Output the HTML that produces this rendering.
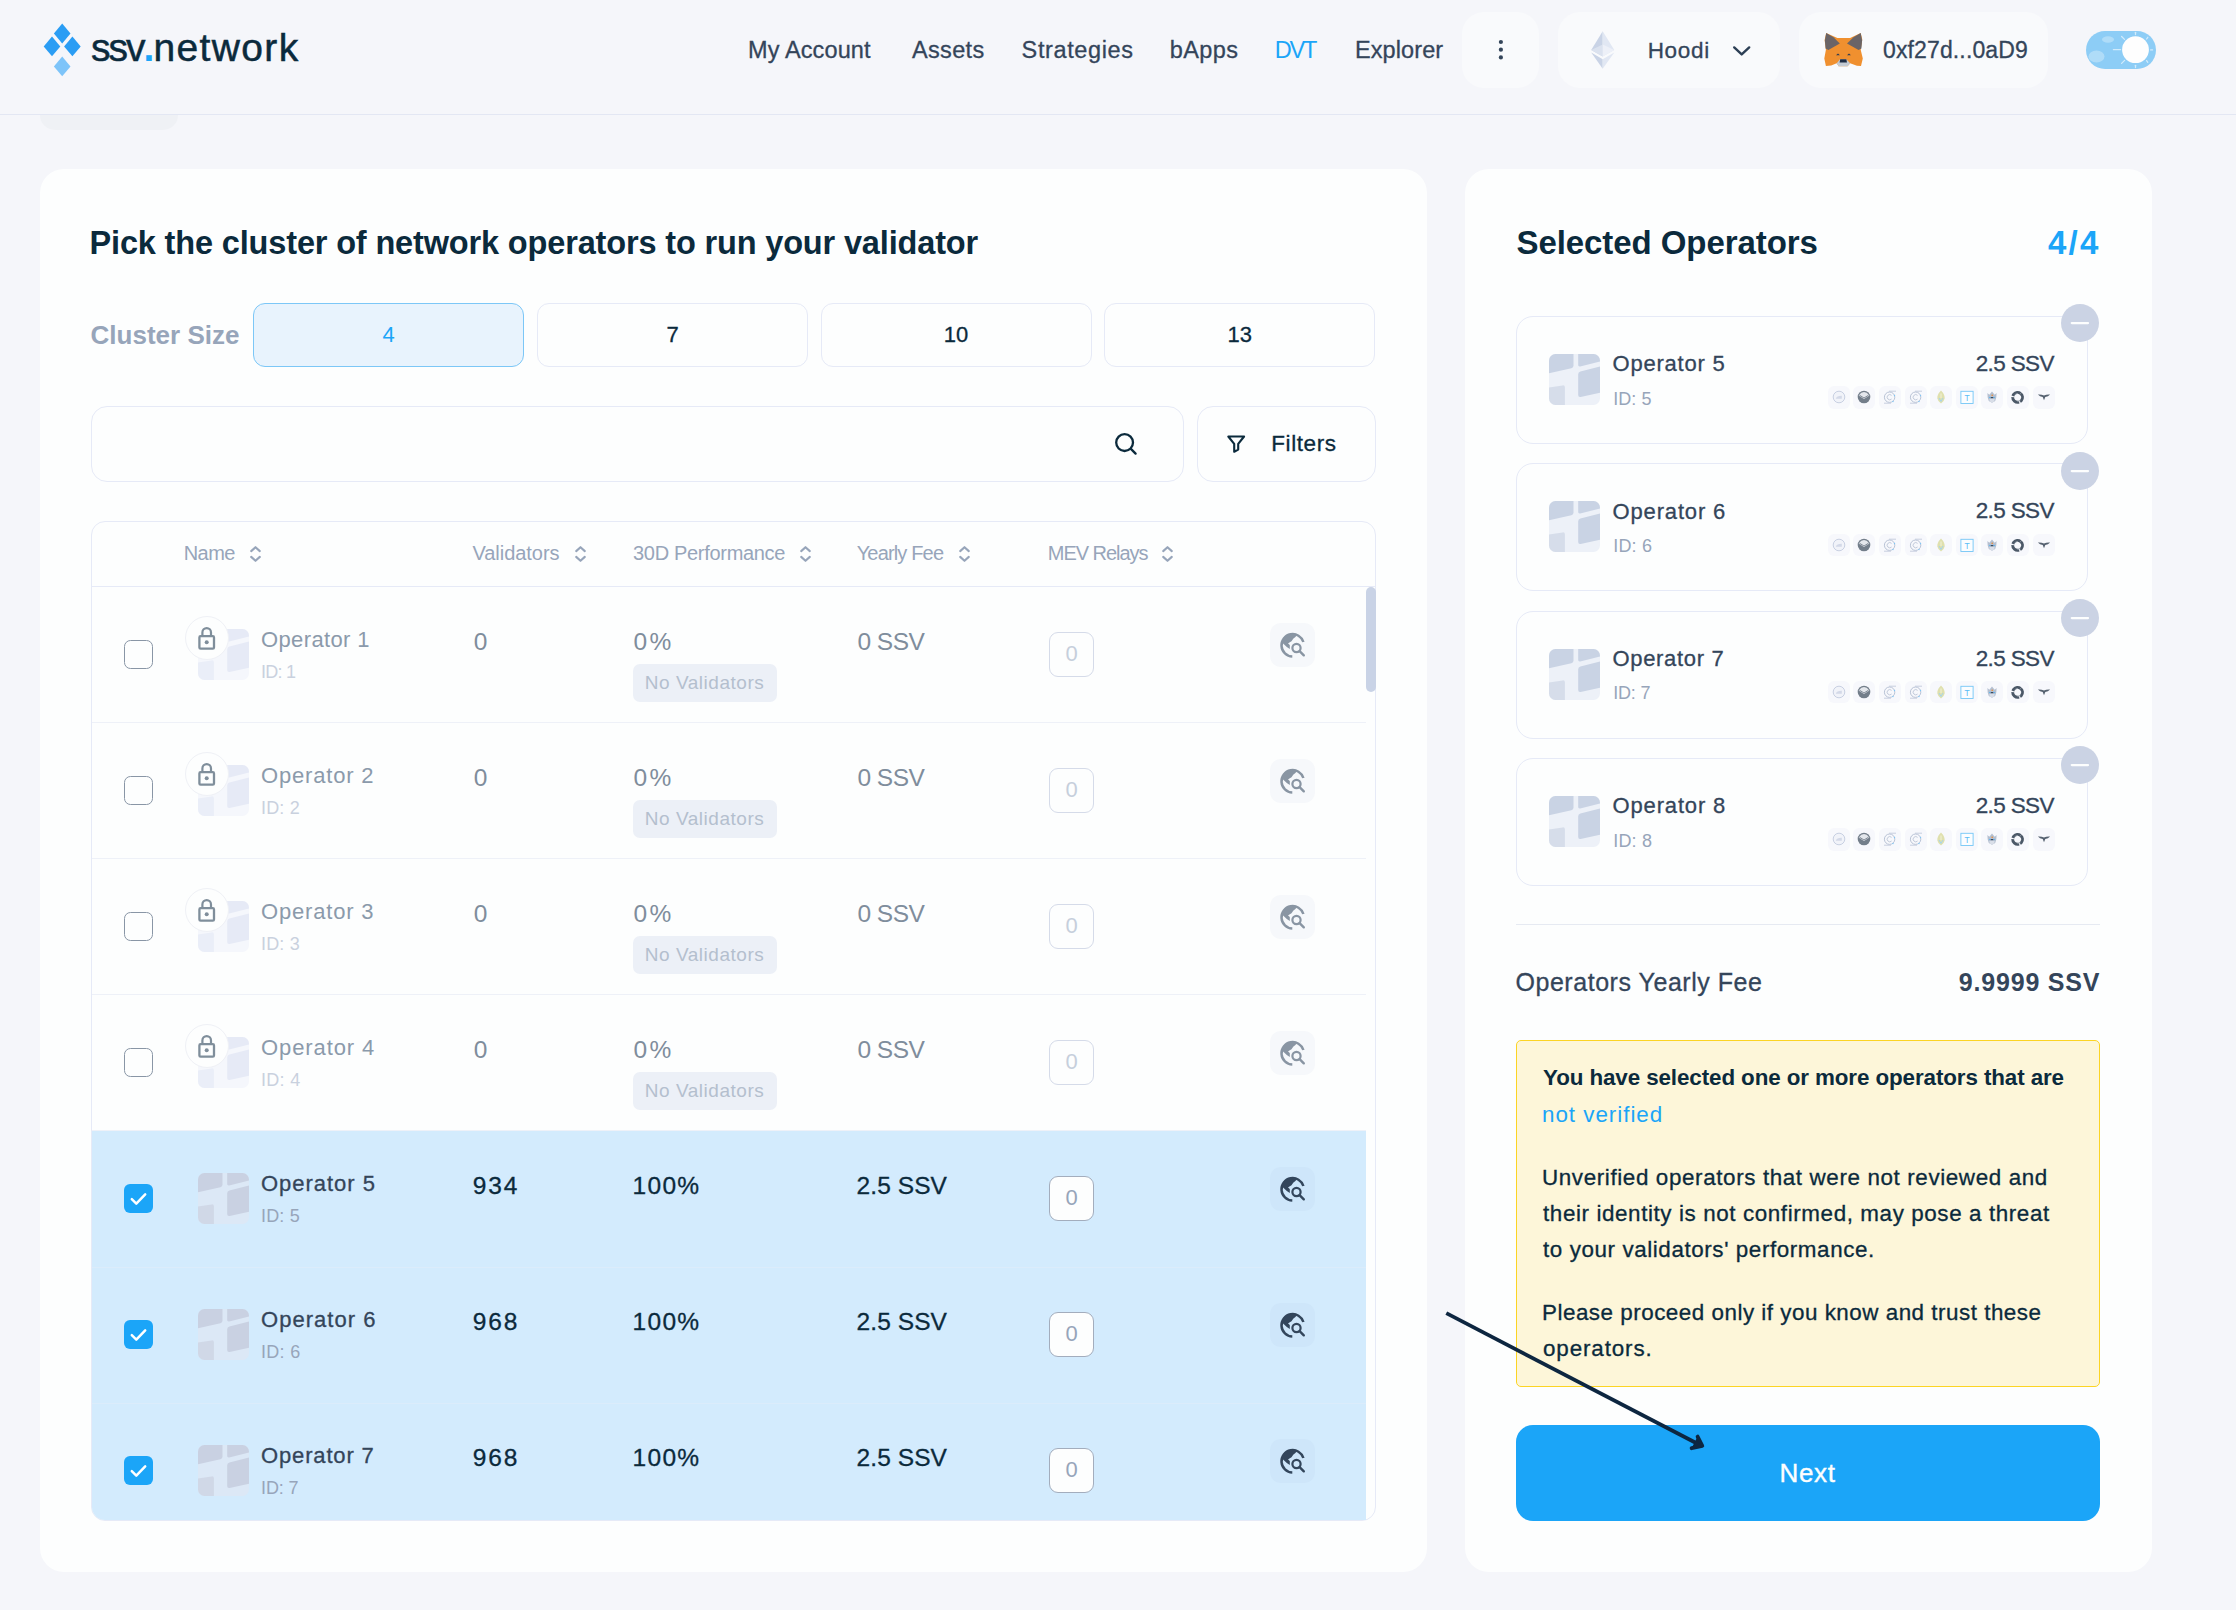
<!DOCTYPE html>
<html lang="en"><head><meta charset="utf-8"><title>ssv.network - Select Operators</title>
<style>
*{box-sizing:border-box;margin:0;padding:0}
html,body{width:2236px;height:1610px;overflow:hidden}
body{position:relative;background:#f5f6fa;font-family:"Liberation Sans",sans-serif;color:#0b2a3c}
body>div,body>svg,.t{position:absolute}
.t{white-space:nowrap;line-height:1;display:block}
div>svg{position:absolute;left:0;top:0}

</style></head>
<body>
<div style="left:40px;top:100px;width:138px;height:30px;background:#eff1f5;border-radius:15px"></div>
<div style="left:0px;top:0px;width:2236px;height:114.5px;background:#f5f6fa;border-bottom:1px solid #e3e7f3"></div>
<svg style="left:40px;top:20px" width="48" height="60" viewBox="40 20 48 60">
<path d="M62.2 23.6 70.5 33.6 62.2 43.6 53.9 33.6Z" fill="#2a9df4"/>
<path d="M52 36.6 60.3 46.4 52 56.2 43.7 46.4Z" fill="#2a9df4"/>
<path d="M72.4 36.6 80.7 46.4 72.4 56.2 64.1 46.4Z" fill="#2a9df4"/>
<path d="M62.2 56.6 70.5 66.4 62.2 76.2 53.9 66.4Z" fill="#7dc4f9"/>
</svg>
<div style="left:1462px;top:12px;width:77px;height:75.5px;background:#f9fafc;border-radius:22px"></div>
<div style="left:1558px;top:12px;width:222px;height:75.5px;background:#f9fafc;border-radius:22px"></div>
<div style="left:1799px;top:12px;width:248.5px;height:75.5px;background:#f9fafc;border-radius:22px"></div>
<svg style="left:1494px;top:36px" width="14" height="28" viewBox="0 0 14 28">
<circle cx="6.900" cy="6" r="2.100" fill="#34455a"/><circle cx="6.900" cy="13.700" r="2.100" fill="#34455a"/><circle cx="6.900" cy="21.400" r="2.100" fill="#34455a"/></svg>
<svg style="left:1588px;top:28px" width="30" height="44" viewBox="1588 28 30 44">
<path d="M1602.7 31.2 1591.2 50 1602.7 56.6Z" fill="#c9d3e6"/>
<path d="M1602.7 31.2 1614.3 50 1602.7 56.6Z" fill="#e1e7f3"/>
<path d="M1591.2 50 1602.7 44.6 1602.7 56.6Z" fill="#dde3f0" opacity=".9"/>
<path d="M1614.3 50 1602.7 44.6 1602.7 56.6Z" fill="#edf0f8"/>
<path d="M1591.2 52.4 1602.7 59.2 1602.7 68.8Z" fill="#c9d3e6"/>
<path d="M1614.3 52.4 1602.7 59.2 1602.7 68.8Z" fill="#e1e7f3"/>
</svg>
<svg style="left:1730px;top:42px" width="24" height="18" viewBox="1730 42 24 18">
<path d="M1734.2 47.4 1741.7 54.4 1749.2 47.4" fill="none" stroke="#2c3f55" stroke-width="2.4" stroke-linecap="round" stroke-linejoin="round"/></svg>
<svg style="left:1822px;top:31px" width="44" height="38" viewBox="0 0 44 38">
<path d="M4.200 2.100 15.400 7H28.100L38.700 2.100 40.300 8.600 38.700 18.800 40.800 27.500 39 35 34.900 34.700 28.100 32.200 25.600 35.300H16.600L14.700 32.200 9.200 34.400 3.900 35 2.300 27.500 3.900 18.800 2.600 9Z" fill="#f0902f"/>
<path d="M4.200 2.100 11.500 6.200 17.800 12.400 6.400 19 3.600 17.600 2.900 9.500Z" fill="#6a6467"/>
<path d="M38.700 2.100 31.500 6.200 25 12.400 36.600 19 39.400 17.600 40.100 9.500Z" fill="#6a6467"/>
<path d="M14.700 32.200 18 28.300H24.400L28.100 32.200 25.600 35.300H16.600Z" fill="#c3cad3"/>
<path d="M18.200 28.300H24.400L25 31.600H17.600Z" fill="#1f2d44"/>
<path d="M14 24.200 16 22.600 17.900 24.200Z" fill="#2a3a52"/><path d="M25 24.200 27 22.600 28.900 24.200Z" fill="#2a3a52"/>
</svg>
<div style="left:2086px;top:31px;width:70px;height:38px;background:#8dcdf6;border-radius:19px"></div>
<svg style="left:2086px;top:30px" width="70" height="40" viewBox="2086 30 70 40">
<g stroke="#fff" stroke-width="1.300" opacity=".6" stroke-linecap="round">
<path d="M2113.400 49.700H2120.600"/><path d="M2121.600 36.500 2124.500 39.400"/><path d="M2121.600 63.400 2124.600 60.400"/><path d="M2135.500 32.300V34.600"/><path d="M2135.500 65.300V67.600"/><path d="M2150.600 49.900H2152.600"/><path d="M2146.600 39 2147.800 37.300"/><path d="M2146.600 60.600 2147.800 62.300"/>
</g>
<g fill="#fff" opacity=".3"><ellipse cx="2108" cy="39.500" rx="6" ry="3.200"/><ellipse cx="2096.500" cy="56.500" rx="8" ry="6"/></g>
<circle cx="2135.500" cy="49.700" r="13.400" fill="#fefefe"/>
</svg>
<div style="left:40px;top:169px;width:1387px;height:1402.5px;background:#fdfefe;border-radius:24px"></div>
<div style="left:1465px;top:169px;width:687px;height:1402.5px;background:#fdfefe;border-radius:24px"></div>
<div style="left:253px;top:303px;width:271px;height:64px;background:#e8f3fd;border:1px solid #7cc7f7;border-radius:12px"></div>
<div style="left:537.0px;top:303px;width:271px;height:64px;background:#fdfefe;border:1px solid #e6eaf7;border-radius:12px"></div>
<div style="left:820.6px;top:303px;width:271px;height:64px;background:#fdfefe;border:1px solid #e6eaf7;border-radius:12px"></div>
<div style="left:1104.2px;top:303px;width:271px;height:64px;background:#fdfefe;border:1px solid #e6eaf7;border-radius:12px"></div>
<div style="left:91px;top:406px;width:1092.5px;height:75.5px;background:#fdfefe;border:1px solid #e6eaf7;border-radius:16px"></div>
<div style="left:1197px;top:406px;width:179px;height:75.5px;background:#fdfefe;border:1px solid #e6eaf7;border-radius:16px"></div>
<svg style="left:1110px;top:428px" width="32" height="32" viewBox="1110 428 32 32">
<circle cx="1124.6" cy="442.6" r="8.4" fill="none" stroke="#0b2a3c" stroke-width="2.3"/>
<path d="M1130.900 448.900 1135.600 453.600" stroke="#0b2a3c" stroke-width="2.3" stroke-linecap="round"/></svg>
<svg style="left:1222px;top:430px" width="28" height="28" viewBox="1222 430 28 28">
<path d="M1228.300 436.500H1244.100L1238.200 443.900V449.600L1234.200 451.700V443.900Z" fill="none" stroke="#0b2a3c" stroke-width="2.1" stroke-linejoin="round"/></svg>
<div style="left:91px;top:521px;width:1285px;height:1000px;background:#fdfefe;border:1px solid #e6eaf7;border-radius:14px"></div>
<div style="left:92px;top:586px;width:1283px;height:1px;background:#e6eaf7"></div>
<svg style="left:246.5px;top:543px" width="17" height="22" viewBox="0 0 17 22"><path d="M4.200 8.100 8.500 4.200 12.800 8.100M4.200 13.900 8.500 17.800 12.800 13.900" fill="none" stroke="#97a5ba" stroke-width="2.1" stroke-linecap="round" stroke-linejoin="round"/></svg>
<svg style="left:571.6px;top:543px" width="17" height="22" viewBox="0 0 17 22"><path d="M4.200 8.100 8.500 4.200 12.800 8.100M4.200 13.900 8.500 17.800 12.800 13.900" fill="none" stroke="#97a5ba" stroke-width="2.1" stroke-linecap="round" stroke-linejoin="round"/></svg>
<svg style="left:796.6px;top:543px" width="17" height="22" viewBox="0 0 17 22"><path d="M4.200 8.100 8.500 4.200 12.800 8.100M4.200 13.900 8.500 17.800 12.800 13.900" fill="none" stroke="#97a5ba" stroke-width="2.1" stroke-linecap="round" stroke-linejoin="round"/></svg>
<svg style="left:955.6px;top:543px" width="17" height="22" viewBox="0 0 17 22"><path d="M4.200 8.100 8.500 4.200 12.800 8.100M4.200 13.900 8.500 17.800 12.800 13.900" fill="none" stroke="#97a5ba" stroke-width="2.1" stroke-linecap="round" stroke-linejoin="round"/></svg>
<svg style="left:1159.4px;top:543px" width="17" height="22" viewBox="0 0 17 22"><path d="M4.200 8.100 8.500 4.200 12.800 8.100M4.200 13.900 8.500 17.800 12.800 13.900" fill="none" stroke="#97a5ba" stroke-width="2.1" stroke-linecap="round" stroke-linejoin="round"/></svg>
<div style="left:1366px;top:587px;width:9.5px;height:105px;background:#c9d3e6;border-radius:5px"></div>
<div style="left:92px;top:722.0px;width:1274px;height:1px;background:#eef1f8"></div>
<div style="left:124px;top:640.0px;width:29px;height:29px;background:#fdfefe;border:1.300px solid #8996a6;border-radius:6.500px"></div>
<svg style="left:198px;top:629.0px" width="51" height="51" viewBox="0 0 51 51"><defs><clipPath id="c198_629"><rect width="51" height="51" rx="6.500"/></clipPath></defs><g clip-path="url(#c198_629)"><rect width="51" height="51" fill="#f5f7fc"/><path d="M0 0H24.500V11.500Q24.500 13.600 22.400 14.200L0 19.200Z" fill="#e6eaf6"/><path d="M29.200 0H51V7.600L31.200 12.400Q29.200 12.800 29.200 11Z" fill="#e6eaf6"/><path d="M31.400 17.600 51 12.600V38.800L31.600 42.900Q29.200 43.300 29.200 41V20.200Q29.200 18.100 31.400 17.600Z" fill="#e6eaf6"/><path d="M0 33.600 13.600 31.400Q15.900 31.100 15.900 33.300V51H0Z" fill="#eaeef8"/></g></svg>
<div style="left:185px;top:616.0px;width:44px;height:44px;background:#fdfefe;border:1px solid #eff1f6;border-radius:22px"><svg width="44" height="44" viewBox="185 0 44 44" style="left:-1px;top:-1px"><rect x="199.400" y="20.200" width="14.600" height="12.400" rx="1.200" fill="none" stroke="#7f8e9b" stroke-width="2.300"/><path d="M202.400 19.800V16.400A4.300 4.300 0 0 1 211 16.400V19.800" fill="none" stroke="#7f8e9b" stroke-width="2.200"/><circle cx="206.700" cy="26.200" r="2" fill="#7f8e9b"/></svg></div>
<div style="left:633px;top:664.0px;width:144px;height:38px;background:#ecf0f7;border-radius:7px"></div>
<div style="left:1049px;top:632.0px;width:45px;height:45px;background:#fdfefe;border:1px solid #d5dbe9;border-radius:9px"></div>
<div style="left:1270px;top:623.0px;width:44.500px;height:44px;background:#f6f8fb;border-radius:11px"><svg width="45" height="44" viewBox="0 0 45 44"><path d="M33.400 19A11.200 11.200 0 1 0 22.300 33.500" fill="none" stroke="#8995a3" stroke-width="2.500"/><path d="M11.800 18.300 12.800 20.300 16.800 24 19.800 26V22L18 20.500 19.800 19.300 21.500 18.300 23.200 15.800 25.700 13.800 26.700 11.300A11.200 11.200 0 0 0 11.800 18.300Z" fill="#8995a3"/><circle cx="26.500" cy="25" r="4.100" fill="none" stroke="#8995a3" stroke-width="2.200"/><path d="M29.600 28.100 33.800 32.300" stroke="#8995a3" stroke-width="2.400" stroke-linecap="round"/></svg></div>
<div style="left:92px;top:858.0px;width:1274px;height:1px;background:#eef1f8"></div>
<div style="left:124px;top:776.0px;width:29px;height:29px;background:#fdfefe;border:1.300px solid #8996a6;border-radius:6.500px"></div>
<svg style="left:198px;top:765.0px" width="51" height="51" viewBox="0 0 51 51"><defs><clipPath id="c198_765"><rect width="51" height="51" rx="6.500"/></clipPath></defs><g clip-path="url(#c198_765)"><rect width="51" height="51" fill="#f5f7fc"/><path d="M0 0H24.500V11.500Q24.500 13.600 22.400 14.200L0 19.200Z" fill="#e6eaf6"/><path d="M29.200 0H51V7.600L31.200 12.400Q29.200 12.800 29.200 11Z" fill="#e6eaf6"/><path d="M31.400 17.600 51 12.600V38.800L31.600 42.900Q29.200 43.300 29.200 41V20.200Q29.200 18.100 31.400 17.600Z" fill="#e6eaf6"/><path d="M0 33.600 13.600 31.400Q15.900 31.100 15.900 33.300V51H0Z" fill="#eaeef8"/></g></svg>
<div style="left:185px;top:752.0px;width:44px;height:44px;background:#fdfefe;border:1px solid #eff1f6;border-radius:22px"><svg width="44" height="44" viewBox="185 0 44 44" style="left:-1px;top:-1px"><rect x="199.400" y="20.200" width="14.600" height="12.400" rx="1.200" fill="none" stroke="#7f8e9b" stroke-width="2.300"/><path d="M202.400 19.800V16.400A4.300 4.300 0 0 1 211 16.400V19.800" fill="none" stroke="#7f8e9b" stroke-width="2.200"/><circle cx="206.700" cy="26.200" r="2" fill="#7f8e9b"/></svg></div>
<div style="left:633px;top:800.0px;width:144px;height:38px;background:#ecf0f7;border-radius:7px"></div>
<div style="left:1049px;top:768.0px;width:45px;height:45px;background:#fdfefe;border:1px solid #d5dbe9;border-radius:9px"></div>
<div style="left:1270px;top:759.0px;width:44.500px;height:44px;background:#f6f8fb;border-radius:11px"><svg width="45" height="44" viewBox="0 0 45 44"><path d="M33.400 19A11.200 11.200 0 1 0 22.300 33.500" fill="none" stroke="#8995a3" stroke-width="2.500"/><path d="M11.800 18.300 12.800 20.300 16.800 24 19.800 26V22L18 20.500 19.800 19.300 21.500 18.300 23.200 15.800 25.700 13.800 26.700 11.300A11.200 11.200 0 0 0 11.800 18.300Z" fill="#8995a3"/><circle cx="26.500" cy="25" r="4.100" fill="none" stroke="#8995a3" stroke-width="2.200"/><path d="M29.600 28.100 33.800 32.300" stroke="#8995a3" stroke-width="2.400" stroke-linecap="round"/></svg></div>
<div style="left:92px;top:994.0px;width:1274px;height:1px;background:#eef1f8"></div>
<div style="left:124px;top:912.0px;width:29px;height:29px;background:#fdfefe;border:1.300px solid #8996a6;border-radius:6.500px"></div>
<svg style="left:198px;top:901.0px" width="51" height="51" viewBox="0 0 51 51"><defs><clipPath id="c198_901"><rect width="51" height="51" rx="6.500"/></clipPath></defs><g clip-path="url(#c198_901)"><rect width="51" height="51" fill="#f5f7fc"/><path d="M0 0H24.500V11.500Q24.500 13.600 22.400 14.200L0 19.200Z" fill="#e6eaf6"/><path d="M29.200 0H51V7.600L31.200 12.400Q29.200 12.800 29.200 11Z" fill="#e6eaf6"/><path d="M31.400 17.600 51 12.600V38.800L31.600 42.900Q29.200 43.300 29.200 41V20.200Q29.200 18.100 31.400 17.600Z" fill="#e6eaf6"/><path d="M0 33.600 13.600 31.400Q15.900 31.100 15.900 33.300V51H0Z" fill="#eaeef8"/></g></svg>
<div style="left:185px;top:888.0px;width:44px;height:44px;background:#fdfefe;border:1px solid #eff1f6;border-radius:22px"><svg width="44" height="44" viewBox="185 0 44 44" style="left:-1px;top:-1px"><rect x="199.400" y="20.200" width="14.600" height="12.400" rx="1.200" fill="none" stroke="#7f8e9b" stroke-width="2.300"/><path d="M202.400 19.800V16.400A4.300 4.300 0 0 1 211 16.400V19.800" fill="none" stroke="#7f8e9b" stroke-width="2.200"/><circle cx="206.700" cy="26.200" r="2" fill="#7f8e9b"/></svg></div>
<div style="left:633px;top:936.0px;width:144px;height:38px;background:#ecf0f7;border-radius:7px"></div>
<div style="left:1049px;top:904.0px;width:45px;height:45px;background:#fdfefe;border:1px solid #d5dbe9;border-radius:9px"></div>
<div style="left:1270px;top:895.0px;width:44.500px;height:44px;background:#f6f8fb;border-radius:11px"><svg width="45" height="44" viewBox="0 0 45 44"><path d="M33.400 19A11.200 11.200 0 1 0 22.300 33.500" fill="none" stroke="#8995a3" stroke-width="2.500"/><path d="M11.800 18.300 12.800 20.300 16.800 24 19.800 26V22L18 20.500 19.800 19.300 21.500 18.300 23.200 15.800 25.700 13.800 26.700 11.300A11.200 11.200 0 0 0 11.800 18.300Z" fill="#8995a3"/><circle cx="26.500" cy="25" r="4.100" fill="none" stroke="#8995a3" stroke-width="2.200"/><path d="M29.600 28.100 33.800 32.300" stroke="#8995a3" stroke-width="2.400" stroke-linecap="round"/></svg></div>
<div style="left:92px;top:1130.0px;width:1274px;height:1px;background:#eef1f8"></div>
<div style="left:124px;top:1048.0px;width:29px;height:29px;background:#fdfefe;border:1.300px solid #8996a6;border-radius:6.500px"></div>
<svg style="left:198px;top:1037.0px" width="51" height="51" viewBox="0 0 51 51"><defs><clipPath id="c198_1037"><rect width="51" height="51" rx="6.500"/></clipPath></defs><g clip-path="url(#c198_1037)"><rect width="51" height="51" fill="#f5f7fc"/><path d="M0 0H24.500V11.500Q24.500 13.600 22.400 14.200L0 19.200Z" fill="#e6eaf6"/><path d="M29.200 0H51V7.600L31.200 12.400Q29.200 12.800 29.200 11Z" fill="#e6eaf6"/><path d="M31.400 17.600 51 12.600V38.800L31.600 42.900Q29.200 43.300 29.200 41V20.200Q29.200 18.100 31.400 17.600Z" fill="#e6eaf6"/><path d="M0 33.600 13.600 31.400Q15.900 31.100 15.900 33.300V51H0Z" fill="#eaeef8"/></g></svg>
<div style="left:185px;top:1024.0px;width:44px;height:44px;background:#fdfefe;border:1px solid #eff1f6;border-radius:22px"><svg width="44" height="44" viewBox="185 0 44 44" style="left:-1px;top:-1px"><rect x="199.400" y="20.200" width="14.600" height="12.400" rx="1.200" fill="none" stroke="#7f8e9b" stroke-width="2.300"/><path d="M202.400 19.800V16.400A4.300 4.300 0 0 1 211 16.400V19.800" fill="none" stroke="#7f8e9b" stroke-width="2.200"/><circle cx="206.700" cy="26.200" r="2" fill="#7f8e9b"/></svg></div>
<div style="left:633px;top:1072.0px;width:144px;height:38px;background:#ecf0f7;border-radius:7px"></div>
<div style="left:1049px;top:1040.0px;width:45px;height:45px;background:#fdfefe;border:1px solid #d5dbe9;border-radius:9px"></div>
<div style="left:1270px;top:1031.0px;width:44.500px;height:44px;background:#f6f8fb;border-radius:11px"><svg width="45" height="44" viewBox="0 0 45 44"><path d="M33.400 19A11.200 11.200 0 1 0 22.300 33.500" fill="none" stroke="#8995a3" stroke-width="2.500"/><path d="M11.800 18.300 12.800 20.300 16.800 24 19.800 26V22L18 20.500 19.800 19.300 21.500 18.300 23.200 15.800 25.700 13.800 26.700 11.300A11.200 11.200 0 0 0 11.800 18.300Z" fill="#8995a3"/><circle cx="26.500" cy="25" r="4.100" fill="none" stroke="#8995a3" stroke-width="2.200"/><path d="M29.600 28.100 33.800 32.300" stroke="#8995a3" stroke-width="2.400" stroke-linecap="round"/></svg></div>
<div style="left:92px;top:1130.5px;width:1274px;height:136px;background:#d3ebfd;"></div>
<div style="left:124px;top:1184.0px;width:29px;height:29px;background:#1ba5f8;border-radius:6px"><svg width="29" height="29" viewBox="0 0 29 29"><path d="M7.800 15.200 12.300 19.600 21.200 10.400" fill="none" stroke="#fff" stroke-width="2.500" stroke-linecap="round" stroke-linejoin="round"/></svg></div>
<svg style="left:198px;top:1173.0px" width="51" height="51" viewBox="0 0 51 51"><defs><clipPath id="c198_1173"><rect width="51" height="51" rx="6.500"/></clipPath></defs><g clip-path="url(#c198_1173)"><rect width="51" height="51" fill="#dce8f6"/><path d="M0 0H24.500V11.500Q24.500 13.600 22.400 14.200L0 19.200Z" fill="#c9d1e2"/><path d="M29.200 0H51V7.600L31.200 12.400Q29.200 12.800 29.200 11Z" fill="#c9d1e2"/><path d="M31.400 17.600 51 12.600V38.800L31.600 42.900Q29.200 43.300 29.200 41V20.200Q29.200 18.100 31.400 17.600Z" fill="#c9d1e2"/><path d="M0 33.600 13.600 31.400Q15.900 31.100 15.900 33.300V51H0Z" fill="#d0d8e7"/></g></svg>
<div style="left:1049px;top:1176.0px;width:45px;height:45px;background:#fdfefe;border:1px solid #a3adbd;border-radius:9px"></div>
<div style="left:1270px;top:1167.0px;width:44.500px;height:44px;background:#cee6fa;border-radius:11px"><svg width="45" height="44" viewBox="0 0 45 44"><path d="M33.400 19A11.200 11.200 0 1 0 22.300 33.500" fill="none" stroke="#33465c" stroke-width="2.500"/><path d="M11.800 18.300 12.800 20.300 16.800 24 19.800 26V22L18 20.500 19.800 19.300 21.500 18.300 23.200 15.800 25.700 13.800 26.700 11.300A11.200 11.200 0 0 0 11.800 18.300Z" fill="#33465c"/><circle cx="26.500" cy="25" r="4.100" fill="none" stroke="#33465c" stroke-width="2.200"/><path d="M29.600 28.100 33.800 32.300" stroke="#33465c" stroke-width="2.400" stroke-linecap="round"/></svg></div>
<div style="left:92px;top:1266.5px;width:1274px;height:136px;background:#d3ebfd;"></div>
<div style="left:92px;top:1266.5px;width:1274px;height:1px;background:#dbecfb"></div>
<div style="left:124px;top:1320.0px;width:29px;height:29px;background:#1ba5f8;border-radius:6px"><svg width="29" height="29" viewBox="0 0 29 29"><path d="M7.800 15.200 12.300 19.600 21.200 10.400" fill="none" stroke="#fff" stroke-width="2.500" stroke-linecap="round" stroke-linejoin="round"/></svg></div>
<svg style="left:198px;top:1309.0px" width="51" height="51" viewBox="0 0 51 51"><defs><clipPath id="c198_1309"><rect width="51" height="51" rx="6.500"/></clipPath></defs><g clip-path="url(#c198_1309)"><rect width="51" height="51" fill="#dce8f6"/><path d="M0 0H24.500V11.500Q24.500 13.600 22.400 14.200L0 19.200Z" fill="#c9d1e2"/><path d="M29.200 0H51V7.600L31.200 12.400Q29.200 12.800 29.200 11Z" fill="#c9d1e2"/><path d="M31.400 17.600 51 12.600V38.800L31.600 42.900Q29.200 43.300 29.200 41V20.200Q29.200 18.100 31.400 17.600Z" fill="#c9d1e2"/><path d="M0 33.600 13.600 31.400Q15.900 31.100 15.900 33.300V51H0Z" fill="#d0d8e7"/></g></svg>
<div style="left:1049px;top:1312.0px;width:45px;height:45px;background:#fdfefe;border:1px solid #a3adbd;border-radius:9px"></div>
<div style="left:1270px;top:1303.0px;width:44.500px;height:44px;background:#cee6fa;border-radius:11px"><svg width="45" height="44" viewBox="0 0 45 44"><path d="M33.400 19A11.200 11.200 0 1 0 22.300 33.500" fill="none" stroke="#33465c" stroke-width="2.500"/><path d="M11.800 18.300 12.800 20.300 16.800 24 19.800 26V22L18 20.500 19.800 19.300 21.500 18.300 23.200 15.800 25.700 13.800 26.700 11.300A11.200 11.200 0 0 0 11.800 18.300Z" fill="#33465c"/><circle cx="26.500" cy="25" r="4.100" fill="none" stroke="#33465c" stroke-width="2.200"/><path d="M29.600 28.100 33.800 32.300" stroke="#33465c" stroke-width="2.400" stroke-linecap="round"/></svg></div>
<div style="left:92px;top:1402.5px;width:1274px;height:117.5px;background:#d3ebfd;border-radius:0 0 0 13px;"></div>
<div style="left:92px;top:1402.5px;width:1274px;height:1px;background:#dbecfb"></div>
<div style="left:124px;top:1456.0px;width:29px;height:29px;background:#1ba5f8;border-radius:6px"><svg width="29" height="29" viewBox="0 0 29 29"><path d="M7.800 15.200 12.300 19.600 21.200 10.400" fill="none" stroke="#fff" stroke-width="2.500" stroke-linecap="round" stroke-linejoin="round"/></svg></div>
<svg style="left:198px;top:1445.0px" width="51" height="51" viewBox="0 0 51 51"><defs><clipPath id="c198_1445"><rect width="51" height="51" rx="6.500"/></clipPath></defs><g clip-path="url(#c198_1445)"><rect width="51" height="51" fill="#dce8f6"/><path d="M0 0H24.500V11.500Q24.500 13.600 22.400 14.200L0 19.200Z" fill="#c9d1e2"/><path d="M29.200 0H51V7.600L31.200 12.400Q29.200 12.800 29.200 11Z" fill="#c9d1e2"/><path d="M31.400 17.600 51 12.600V38.800L31.600 42.900Q29.200 43.300 29.200 41V20.200Q29.200 18.100 31.400 17.600Z" fill="#c9d1e2"/><path d="M0 33.600 13.600 31.400Q15.900 31.100 15.900 33.300V51H0Z" fill="#d0d8e7"/></g></svg>
<div style="left:1049px;top:1448.0px;width:45px;height:45px;background:#fdfefe;border:1px solid #a3adbd;border-radius:9px"></div>
<div style="left:1270px;top:1439.0px;width:44.500px;height:44px;background:#cee6fa;border-radius:11px"><svg width="45" height="44" viewBox="0 0 45 44"><path d="M33.400 19A11.200 11.200 0 1 0 22.300 33.500" fill="none" stroke="#33465c" stroke-width="2.500"/><path d="M11.800 18.300 12.800 20.300 16.800 24 19.800 26V22L18 20.500 19.800 19.300 21.500 18.300 23.200 15.800 25.700 13.800 26.700 11.300A11.200 11.200 0 0 0 11.800 18.300Z" fill="#33465c"/><circle cx="26.500" cy="25" r="4.100" fill="none" stroke="#33465c" stroke-width="2.200"/><path d="M29.600 28.100 33.800 32.300" stroke="#33465c" stroke-width="2.400" stroke-linecap="round"/></svg></div>
<div style="left:1516px;top:316.1px;width:572px;height:128px;background:#fdfefe;border:1px solid #e6eaf7;border-radius:17px"></div>
<svg style="left:1549px;top:353.9px" width="51" height="51" viewBox="0 0 51 51"><defs><clipPath id="c1549_353"><rect width="51" height="51" rx="6.500"/></clipPath></defs><g clip-path="url(#c1549_353)"><rect width="51" height="51" fill="#edf1f8"/><path d="M0 0H24.500V11.500Q24.500 13.600 22.400 14.200L0 19.200Z" fill="#c9d3e4"/><path d="M29.200 0H51V7.600L31.200 12.400Q29.200 12.800 29.200 11Z" fill="#c9d3e4"/><path d="M31.400 17.600 51 12.600V38.800L31.600 42.900Q29.200 43.300 29.200 41V20.200Q29.200 18.100 31.400 17.600Z" fill="#c9d3e4"/><path d="M0 33.600 13.600 31.400Q15.900 31.100 15.900 33.300V51H0Z" fill="#d6ddea"/></g></svg>
<div style="left:1827.7px;top:386.1px;width:22px;height:22.500px;background:#f7f8fc;border-radius:6px"><svg width="22" height="22" viewBox="0 0 22 22"><circle cx="11" cy="11" r="5.800" fill="#f1f3f9" stroke="#c8d0e2" stroke-width="1"/><path d="M7.800 12.600Q9 9.600 13.800 9.800V12.800H7.800Z" fill="#d3d9e8"/></svg></div>
<div style="left:1853.3px;top:386.1px;width:22px;height:22.500px;background:#f7f8fc;border-radius:6px"><svg width="22" height="22" viewBox="0 0 22 22"><circle cx="11" cy="11" r="6.300" fill="#737e8a"/><path d="M5.600 9.400Q11 2.800 16.400 9.400L11 13Z" fill="#e4e7ec"/><path d="M6.500 9.200 11 12 15.500 9.200" fill="none" stroke="#737e8a" stroke-width=".9"/></svg></div>
<div style="left:1878.9px;top:386.1px;width:22px;height:22.500px;background:#f7f8fc;border-radius:6px"><svg width="22" height="22" viewBox="0 0 22 22"><circle cx="10.600" cy="11.200" r="5.200" fill="none" stroke="#b9c3d6" stroke-width="1"/><path d="M12.600 9.400A2.600 2.600 0 1 0 12.600 13" fill="none" stroke="#c3cbdb" stroke-width="1"/><path d="M10 5.200H17M5 17.200H12" stroke="#c3cbdb" stroke-width=".9"/><circle cx="15.500" cy="9.500" r=".7" fill="#7cc7f7"/><circle cx="14" cy="15.500" r=".7" fill="#7cc7f7"/></svg></div>
<div style="left:1904.5px;top:386.1px;width:22px;height:22.500px;background:#f7f8fc;border-radius:6px"><svg width="22" height="22" viewBox="0 0 22 22"><circle cx="10.600" cy="11.200" r="5.200" fill="none" stroke="#b9c3d6" stroke-width="1"/><path d="M12.600 9.400A2.600 2.600 0 1 0 12.600 13" fill="none" stroke="#c3cbdb" stroke-width="1"/><path d="M10 5.200H17M5 17.200H12" stroke="#c3cbdb" stroke-width=".9"/><circle cx="15.500" cy="9.500" r=".7" fill="#7cc7f7"/><circle cx="14" cy="15.500" r=".7" fill="#7cc7f7"/></svg></div>
<div style="left:1930.1px;top:386.1px;width:22px;height:22.500px;background:#f7f8fc;border-radius:6px"><svg width="22" height="22" viewBox="0 0 22 22"><path d="M11 4.600Q15 8.600 14.600 12.600 14 16 11 17.400 8 16 7.400 12.600 7 8.600 11 4.600Z" fill="#dfe0ae"/><path d="M9 12 11 15.500 13 12" fill="none" stroke="#9fd2f3" stroke-width=".9"/><path d="M11 7.500V12" stroke="#f1f1d8" stroke-width="1"/></svg></div>
<div style="left:1955.7px;top:386.1px;width:22px;height:22.500px;background:#f7f8fc;border-radius:6px"><svg width="22" height="22" viewBox="0 0 22 22"><rect x="4.900" y="5.300" width="12.200" height="12.200" fill="#fbfdff" stroke="#74c6f6" stroke-width=".9"/><text x="11" y="14.600" font-family="Liberation Sans, sans-serif" font-size="8.500" fill="#5bbcf6" text-anchor="middle">T</text></svg></div>
<div style="left:1981.3px;top:386.1px;width:22px;height:22.500px;background:#f7f8fc;border-radius:6px"><svg width="22" height="22" viewBox="0 0 22 22"><path d="M6.400 7 8.300 8.800 11 5.600 13.700 8.800 15.600 7 15.300 11.400 14.200 15 11 16.800 7.800 15 6.700 11.400Z" fill="#b4bfd0"/><path d="M8.300 12.800H13.700L13.200 15.400 11 16.600 8.800 15.400Z" fill="#d9dee8"/><rect x="9.600" y="11" width="2.800" height="1.200" fill="#3c4a5c"/><circle cx="11.200" cy="9.300" r=".8" fill="#f08b2b"/><rect x="8.100" y="11" width="1.300" height="1.100" fill="#5ab7f5"/><rect x="12.700" y="11" width="1.300" height="1.100" fill="#5ab7f5"/></svg></div>
<div style="left:2006.9px;top:386.1px;width:22px;height:22.500px;background:#f7f8fc;border-radius:6px"><svg width="22" height="22" viewBox="0 0 22 22"><circle cx="10.600" cy="11.400" r="4.900" fill="none" stroke="#4b5867" stroke-width="2.900" stroke-dasharray="9.200 1.060" transform="rotate(-50 10.600 11.400)"/><path d="M7.400 9.400Q8.600 7.600 10.800 7.400M13.800 13.600Q12.600 15.400 10.400 15.600" fill="none" stroke="#9aa4b0" stroke-width=".8"/></svg></div>
<div style="left:2032.5px;top:386.1px;width:22px;height:22.500px;background:#f7f8fc;border-radius:6px"><svg width="22" height="22" viewBox="0 0 22 22"><path d="M4.900 8.600Q8.400 8.300 11 9.600 13.600 8.300 17.100 8.600 15.200 10.900 12.300 11.100L11 14.300 9.700 11.100Q6.800 10.900 4.900 8.600Z" fill="#566270"/></svg></div>
<div style="left:2061px;top:304.1px;width:38px;height:38px;background:#cbd3e4;border-radius:19px"><svg width="39" height="39" viewBox="0 0 39 39"><path d="M10.800 19.100H27" stroke="#fdfefe" stroke-width="2.300" stroke-linecap="round"/></svg></div>
<div style="left:1516px;top:463.47px;width:572px;height:128px;background:#fdfefe;border:1px solid #e6eaf7;border-radius:17px"></div>
<svg style="left:1549px;top:501.3px" width="51" height="51" viewBox="0 0 51 51"><defs><clipPath id="c1549_501"><rect width="51" height="51" rx="6.500"/></clipPath></defs><g clip-path="url(#c1549_501)"><rect width="51" height="51" fill="#edf1f8"/><path d="M0 0H24.500V11.500Q24.500 13.600 22.400 14.200L0 19.200Z" fill="#c9d3e4"/><path d="M29.200 0H51V7.600L31.200 12.400Q29.200 12.800 29.200 11Z" fill="#c9d3e4"/><path d="M31.400 17.600 51 12.600V38.800L31.600 42.900Q29.200 43.300 29.200 41V20.200Q29.200 18.100 31.400 17.600Z" fill="#c9d3e4"/><path d="M0 33.600 13.600 31.400Q15.900 31.100 15.900 33.300V51H0Z" fill="#d6ddea"/></g></svg>
<div style="left:1827.7px;top:533.5px;width:22px;height:22.500px;background:#f7f8fc;border-radius:6px"><svg width="22" height="22" viewBox="0 0 22 22"><circle cx="11" cy="11" r="5.800" fill="#f1f3f9" stroke="#c8d0e2" stroke-width="1"/><path d="M7.800 12.600Q9 9.600 13.800 9.800V12.800H7.800Z" fill="#d3d9e8"/></svg></div>
<div style="left:1853.3px;top:533.5px;width:22px;height:22.500px;background:#f7f8fc;border-radius:6px"><svg width="22" height="22" viewBox="0 0 22 22"><circle cx="11" cy="11" r="6.300" fill="#737e8a"/><path d="M5.600 9.400Q11 2.800 16.400 9.400L11 13Z" fill="#e4e7ec"/><path d="M6.500 9.200 11 12 15.500 9.200" fill="none" stroke="#737e8a" stroke-width=".9"/></svg></div>
<div style="left:1878.9px;top:533.5px;width:22px;height:22.500px;background:#f7f8fc;border-radius:6px"><svg width="22" height="22" viewBox="0 0 22 22"><circle cx="10.600" cy="11.200" r="5.200" fill="none" stroke="#b9c3d6" stroke-width="1"/><path d="M12.600 9.400A2.600 2.600 0 1 0 12.600 13" fill="none" stroke="#c3cbdb" stroke-width="1"/><path d="M10 5.200H17M5 17.200H12" stroke="#c3cbdb" stroke-width=".9"/><circle cx="15.500" cy="9.500" r=".7" fill="#7cc7f7"/><circle cx="14" cy="15.500" r=".7" fill="#7cc7f7"/></svg></div>
<div style="left:1904.5px;top:533.5px;width:22px;height:22.500px;background:#f7f8fc;border-radius:6px"><svg width="22" height="22" viewBox="0 0 22 22"><circle cx="10.600" cy="11.200" r="5.200" fill="none" stroke="#b9c3d6" stroke-width="1"/><path d="M12.600 9.400A2.600 2.600 0 1 0 12.600 13" fill="none" stroke="#c3cbdb" stroke-width="1"/><path d="M10 5.200H17M5 17.200H12" stroke="#c3cbdb" stroke-width=".9"/><circle cx="15.500" cy="9.500" r=".7" fill="#7cc7f7"/><circle cx="14" cy="15.500" r=".7" fill="#7cc7f7"/></svg></div>
<div style="left:1930.1px;top:533.5px;width:22px;height:22.500px;background:#f7f8fc;border-radius:6px"><svg width="22" height="22" viewBox="0 0 22 22"><path d="M11 4.600Q15 8.600 14.600 12.600 14 16 11 17.400 8 16 7.400 12.600 7 8.600 11 4.600Z" fill="#dfe0ae"/><path d="M9 12 11 15.500 13 12" fill="none" stroke="#9fd2f3" stroke-width=".9"/><path d="M11 7.500V12" stroke="#f1f1d8" stroke-width="1"/></svg></div>
<div style="left:1955.7px;top:533.5px;width:22px;height:22.500px;background:#f7f8fc;border-radius:6px"><svg width="22" height="22" viewBox="0 0 22 22"><rect x="4.900" y="5.300" width="12.200" height="12.200" fill="#fbfdff" stroke="#74c6f6" stroke-width=".9"/><text x="11" y="14.600" font-family="Liberation Sans, sans-serif" font-size="8.500" fill="#5bbcf6" text-anchor="middle">T</text></svg></div>
<div style="left:1981.3px;top:533.5px;width:22px;height:22.500px;background:#f7f8fc;border-radius:6px"><svg width="22" height="22" viewBox="0 0 22 22"><path d="M6.400 7 8.300 8.800 11 5.600 13.700 8.800 15.600 7 15.300 11.400 14.200 15 11 16.800 7.800 15 6.700 11.400Z" fill="#b4bfd0"/><path d="M8.300 12.800H13.700L13.200 15.400 11 16.600 8.800 15.400Z" fill="#d9dee8"/><rect x="9.600" y="11" width="2.800" height="1.200" fill="#3c4a5c"/><circle cx="11.200" cy="9.300" r=".8" fill="#f08b2b"/><rect x="8.100" y="11" width="1.300" height="1.100" fill="#5ab7f5"/><rect x="12.700" y="11" width="1.300" height="1.100" fill="#5ab7f5"/></svg></div>
<div style="left:2006.9px;top:533.5px;width:22px;height:22.500px;background:#f7f8fc;border-radius:6px"><svg width="22" height="22" viewBox="0 0 22 22"><circle cx="10.600" cy="11.400" r="4.900" fill="none" stroke="#4b5867" stroke-width="2.900" stroke-dasharray="9.200 1.060" transform="rotate(-50 10.600 11.400)"/><path d="M7.400 9.400Q8.600 7.600 10.800 7.400M13.800 13.600Q12.600 15.400 10.400 15.600" fill="none" stroke="#9aa4b0" stroke-width=".8"/></svg></div>
<div style="left:2032.5px;top:533.5px;width:22px;height:22.500px;background:#f7f8fc;border-radius:6px"><svg width="22" height="22" viewBox="0 0 22 22"><path d="M4.900 8.600Q8.400 8.300 11 9.600 13.600 8.300 17.100 8.600 15.200 10.900 12.300 11.100L11 14.300 9.700 11.100Q6.800 10.900 4.900 8.600Z" fill="#566270"/></svg></div>
<div style="left:2061px;top:451.5px;width:38px;height:38px;background:#cbd3e4;border-radius:19px"><svg width="39" height="39" viewBox="0 0 39 39"><path d="M10.800 19.100H27" stroke="#fdfefe" stroke-width="2.300" stroke-linecap="round"/></svg></div>
<div style="left:1516px;top:610.84px;width:572px;height:128px;background:#fdfefe;border:1px solid #e6eaf7;border-radius:17px"></div>
<svg style="left:1549px;top:648.6px" width="51" height="51" viewBox="0 0 51 51"><defs><clipPath id="c1549_648"><rect width="51" height="51" rx="6.500"/></clipPath></defs><g clip-path="url(#c1549_648)"><rect width="51" height="51" fill="#edf1f8"/><path d="M0 0H24.500V11.500Q24.500 13.600 22.400 14.200L0 19.200Z" fill="#c9d3e4"/><path d="M29.200 0H51V7.600L31.200 12.400Q29.200 12.800 29.200 11Z" fill="#c9d3e4"/><path d="M31.400 17.600 51 12.600V38.800L31.600 42.900Q29.200 43.300 29.200 41V20.200Q29.200 18.100 31.400 17.600Z" fill="#c9d3e4"/><path d="M0 33.600 13.600 31.400Q15.900 31.100 15.900 33.300V51H0Z" fill="#d6ddea"/></g></svg>
<div style="left:1827.7px;top:680.8px;width:22px;height:22.500px;background:#f7f8fc;border-radius:6px"><svg width="22" height="22" viewBox="0 0 22 22"><circle cx="11" cy="11" r="5.800" fill="#f1f3f9" stroke="#c8d0e2" stroke-width="1"/><path d="M7.800 12.600Q9 9.600 13.800 9.800V12.800H7.800Z" fill="#d3d9e8"/></svg></div>
<div style="left:1853.3px;top:680.8px;width:22px;height:22.500px;background:#f7f8fc;border-radius:6px"><svg width="22" height="22" viewBox="0 0 22 22"><circle cx="11" cy="11" r="6.300" fill="#737e8a"/><path d="M5.600 9.400Q11 2.800 16.400 9.400L11 13Z" fill="#e4e7ec"/><path d="M6.500 9.200 11 12 15.500 9.200" fill="none" stroke="#737e8a" stroke-width=".9"/></svg></div>
<div style="left:1878.9px;top:680.8px;width:22px;height:22.500px;background:#f7f8fc;border-radius:6px"><svg width="22" height="22" viewBox="0 0 22 22"><circle cx="10.600" cy="11.200" r="5.200" fill="none" stroke="#b9c3d6" stroke-width="1"/><path d="M12.600 9.400A2.600 2.600 0 1 0 12.600 13" fill="none" stroke="#c3cbdb" stroke-width="1"/><path d="M10 5.200H17M5 17.200H12" stroke="#c3cbdb" stroke-width=".9"/><circle cx="15.500" cy="9.500" r=".7" fill="#7cc7f7"/><circle cx="14" cy="15.500" r=".7" fill="#7cc7f7"/></svg></div>
<div style="left:1904.5px;top:680.8px;width:22px;height:22.500px;background:#f7f8fc;border-radius:6px"><svg width="22" height="22" viewBox="0 0 22 22"><circle cx="10.600" cy="11.200" r="5.200" fill="none" stroke="#b9c3d6" stroke-width="1"/><path d="M12.600 9.400A2.600 2.600 0 1 0 12.600 13" fill="none" stroke="#c3cbdb" stroke-width="1"/><path d="M10 5.200H17M5 17.200H12" stroke="#c3cbdb" stroke-width=".9"/><circle cx="15.500" cy="9.500" r=".7" fill="#7cc7f7"/><circle cx="14" cy="15.500" r=".7" fill="#7cc7f7"/></svg></div>
<div style="left:1930.1px;top:680.8px;width:22px;height:22.500px;background:#f7f8fc;border-radius:6px"><svg width="22" height="22" viewBox="0 0 22 22"><path d="M11 4.600Q15 8.600 14.600 12.600 14 16 11 17.400 8 16 7.400 12.600 7 8.600 11 4.600Z" fill="#dfe0ae"/><path d="M9 12 11 15.500 13 12" fill="none" stroke="#9fd2f3" stroke-width=".9"/><path d="M11 7.500V12" stroke="#f1f1d8" stroke-width="1"/></svg></div>
<div style="left:1955.7px;top:680.8px;width:22px;height:22.500px;background:#f7f8fc;border-radius:6px"><svg width="22" height="22" viewBox="0 0 22 22"><rect x="4.900" y="5.300" width="12.200" height="12.200" fill="#fbfdff" stroke="#74c6f6" stroke-width=".9"/><text x="11" y="14.600" font-family="Liberation Sans, sans-serif" font-size="8.500" fill="#5bbcf6" text-anchor="middle">T</text></svg></div>
<div style="left:1981.3px;top:680.8px;width:22px;height:22.500px;background:#f7f8fc;border-radius:6px"><svg width="22" height="22" viewBox="0 0 22 22"><path d="M6.400 7 8.300 8.800 11 5.600 13.700 8.800 15.600 7 15.300 11.400 14.200 15 11 16.800 7.800 15 6.700 11.400Z" fill="#b4bfd0"/><path d="M8.300 12.800H13.700L13.200 15.400 11 16.600 8.800 15.400Z" fill="#d9dee8"/><rect x="9.600" y="11" width="2.800" height="1.200" fill="#3c4a5c"/><circle cx="11.200" cy="9.300" r=".8" fill="#f08b2b"/><rect x="8.100" y="11" width="1.300" height="1.100" fill="#5ab7f5"/><rect x="12.700" y="11" width="1.300" height="1.100" fill="#5ab7f5"/></svg></div>
<div style="left:2006.9px;top:680.8px;width:22px;height:22.500px;background:#f7f8fc;border-radius:6px"><svg width="22" height="22" viewBox="0 0 22 22"><circle cx="10.600" cy="11.400" r="4.900" fill="none" stroke="#4b5867" stroke-width="2.900" stroke-dasharray="9.200 1.060" transform="rotate(-50 10.600 11.400)"/><path d="M7.400 9.400Q8.600 7.600 10.800 7.400M13.800 13.600Q12.600 15.400 10.400 15.600" fill="none" stroke="#9aa4b0" stroke-width=".8"/></svg></div>
<div style="left:2032.5px;top:680.8px;width:22px;height:22.500px;background:#f7f8fc;border-radius:6px"><svg width="22" height="22" viewBox="0 0 22 22"><path d="M4.900 8.600Q8.400 8.300 11 9.600 13.600 8.300 17.100 8.600 15.200 10.900 12.300 11.100L11 14.300 9.700 11.100Q6.800 10.900 4.900 8.600Z" fill="#566270"/></svg></div>
<div style="left:2061px;top:598.8px;width:38px;height:38px;background:#cbd3e4;border-radius:19px"><svg width="39" height="39" viewBox="0 0 39 39"><path d="M10.800 19.100H27" stroke="#fdfefe" stroke-width="2.300" stroke-linecap="round"/></svg></div>
<div style="left:1516px;top:758.21px;width:572px;height:128px;background:#fdfefe;border:1px solid #e6eaf7;border-radius:17px"></div>
<svg style="left:1549px;top:796.0px" width="51" height="51" viewBox="0 0 51 51"><defs><clipPath id="c1549_796"><rect width="51" height="51" rx="6.500"/></clipPath></defs><g clip-path="url(#c1549_796)"><rect width="51" height="51" fill="#edf1f8"/><path d="M0 0H24.500V11.500Q24.500 13.600 22.400 14.200L0 19.200Z" fill="#c9d3e4"/><path d="M29.200 0H51V7.600L31.200 12.400Q29.200 12.800 29.200 11Z" fill="#c9d3e4"/><path d="M31.400 17.600 51 12.600V38.800L31.600 42.900Q29.200 43.300 29.200 41V20.200Q29.200 18.100 31.400 17.600Z" fill="#c9d3e4"/><path d="M0 33.600 13.600 31.400Q15.900 31.100 15.900 33.300V51H0Z" fill="#d6ddea"/></g></svg>
<div style="left:1827.7px;top:828.2px;width:22px;height:22.500px;background:#f7f8fc;border-radius:6px"><svg width="22" height="22" viewBox="0 0 22 22"><circle cx="11" cy="11" r="5.800" fill="#f1f3f9" stroke="#c8d0e2" stroke-width="1"/><path d="M7.800 12.600Q9 9.600 13.800 9.800V12.800H7.800Z" fill="#d3d9e8"/></svg></div>
<div style="left:1853.3px;top:828.2px;width:22px;height:22.500px;background:#f7f8fc;border-radius:6px"><svg width="22" height="22" viewBox="0 0 22 22"><circle cx="11" cy="11" r="6.300" fill="#737e8a"/><path d="M5.600 9.400Q11 2.800 16.400 9.400L11 13Z" fill="#e4e7ec"/><path d="M6.500 9.200 11 12 15.500 9.200" fill="none" stroke="#737e8a" stroke-width=".9"/></svg></div>
<div style="left:1878.9px;top:828.2px;width:22px;height:22.500px;background:#f7f8fc;border-radius:6px"><svg width="22" height="22" viewBox="0 0 22 22"><circle cx="10.600" cy="11.200" r="5.200" fill="none" stroke="#b9c3d6" stroke-width="1"/><path d="M12.600 9.400A2.600 2.600 0 1 0 12.600 13" fill="none" stroke="#c3cbdb" stroke-width="1"/><path d="M10 5.200H17M5 17.200H12" stroke="#c3cbdb" stroke-width=".9"/><circle cx="15.500" cy="9.500" r=".7" fill="#7cc7f7"/><circle cx="14" cy="15.500" r=".7" fill="#7cc7f7"/></svg></div>
<div style="left:1904.5px;top:828.2px;width:22px;height:22.500px;background:#f7f8fc;border-radius:6px"><svg width="22" height="22" viewBox="0 0 22 22"><circle cx="10.600" cy="11.200" r="5.200" fill="none" stroke="#b9c3d6" stroke-width="1"/><path d="M12.600 9.400A2.600 2.600 0 1 0 12.600 13" fill="none" stroke="#c3cbdb" stroke-width="1"/><path d="M10 5.200H17M5 17.200H12" stroke="#c3cbdb" stroke-width=".9"/><circle cx="15.500" cy="9.500" r=".7" fill="#7cc7f7"/><circle cx="14" cy="15.500" r=".7" fill="#7cc7f7"/></svg></div>
<div style="left:1930.1px;top:828.2px;width:22px;height:22.500px;background:#f7f8fc;border-radius:6px"><svg width="22" height="22" viewBox="0 0 22 22"><path d="M11 4.600Q15 8.600 14.600 12.600 14 16 11 17.400 8 16 7.400 12.600 7 8.600 11 4.600Z" fill="#dfe0ae"/><path d="M9 12 11 15.500 13 12" fill="none" stroke="#9fd2f3" stroke-width=".9"/><path d="M11 7.500V12" stroke="#f1f1d8" stroke-width="1"/></svg></div>
<div style="left:1955.7px;top:828.2px;width:22px;height:22.500px;background:#f7f8fc;border-radius:6px"><svg width="22" height="22" viewBox="0 0 22 22"><rect x="4.900" y="5.300" width="12.200" height="12.200" fill="#fbfdff" stroke="#74c6f6" stroke-width=".9"/><text x="11" y="14.600" font-family="Liberation Sans, sans-serif" font-size="8.500" fill="#5bbcf6" text-anchor="middle">T</text></svg></div>
<div style="left:1981.3px;top:828.2px;width:22px;height:22.500px;background:#f7f8fc;border-radius:6px"><svg width="22" height="22" viewBox="0 0 22 22"><path d="M6.400 7 8.300 8.800 11 5.600 13.700 8.800 15.600 7 15.300 11.400 14.200 15 11 16.800 7.800 15 6.700 11.400Z" fill="#b4bfd0"/><path d="M8.300 12.800H13.700L13.200 15.400 11 16.600 8.800 15.400Z" fill="#d9dee8"/><rect x="9.600" y="11" width="2.800" height="1.200" fill="#3c4a5c"/><circle cx="11.200" cy="9.300" r=".8" fill="#f08b2b"/><rect x="8.100" y="11" width="1.300" height="1.100" fill="#5ab7f5"/><rect x="12.700" y="11" width="1.300" height="1.100" fill="#5ab7f5"/></svg></div>
<div style="left:2006.9px;top:828.2px;width:22px;height:22.500px;background:#f7f8fc;border-radius:6px"><svg width="22" height="22" viewBox="0 0 22 22"><circle cx="10.600" cy="11.400" r="4.900" fill="none" stroke="#4b5867" stroke-width="2.900" stroke-dasharray="9.200 1.060" transform="rotate(-50 10.600 11.400)"/><path d="M7.400 9.400Q8.600 7.600 10.800 7.400M13.800 13.600Q12.600 15.400 10.400 15.600" fill="none" stroke="#9aa4b0" stroke-width=".8"/></svg></div>
<div style="left:2032.5px;top:828.2px;width:22px;height:22.500px;background:#f7f8fc;border-radius:6px"><svg width="22" height="22" viewBox="0 0 22 22"><path d="M4.900 8.600Q8.400 8.300 11 9.600 13.600 8.300 17.100 8.600 15.200 10.900 12.300 11.100L11 14.300 9.700 11.100Q6.800 10.900 4.900 8.600Z" fill="#566270"/></svg></div>
<div style="left:2061px;top:746.2px;width:38px;height:38px;background:#cbd3e4;border-radius:19px"><svg width="39" height="39" viewBox="0 0 39 39"><path d="M10.800 19.100H27" stroke="#fdfefe" stroke-width="2.300" stroke-linecap="round"/></svg></div>
<div style="left:1516px;top:924px;width:584px;height:1px;background:#e6eaf2"></div>
<div style="left:1516px;top:1040px;width:584px;height:347px;background:#fdf6d9;border:1.300px solid #fcd424;border-radius:5px"></div>
<div style="left:1516px;top:1425px;width:584px;height:96px;background:#1ba5f8;border-radius:17px"></div>
<svg style="left:1436px;top:1300px" width="290" height="160" viewBox="1436 1300 290 160">
<path d="M1446.300 1313.200 1700 1445" stroke="#0d2640" stroke-width="3.700" fill="none"/>
<path d="M1697.600 1436.600 1702.300 1445.900 1691.600 1448.200" stroke="#0d2640" stroke-width="3.800" stroke-linecap="round" stroke-linejoin="round" fill="#0d2640"/>
</svg>
<span class="t" style="top:27.79px;font-size:39px;color:#0b2a3c;left:90.90px;-webkit-text-stroke:0.3px;letter-spacing:-1.900px;-webkit-text-stroke:0.5px #0b2a3c;">ssv</span>
<span class="t" style="top:27.79px;font-size:39px;color:#1ba5f8;left:143.60px;font-weight:700;">.</span>
<span class="t" style="top:27.79px;font-size:39px;color:#0b2a3c;left:153.40px;-webkit-text-stroke:0.3px;letter-spacing:1.374px;-webkit-text-stroke:0.5px #0b2a3c;">network</span>
<span class="t" style="top:39.01px;font-size:23.5px;color:#34455a;left:748.00px;-webkit-text-stroke:0.3px;letter-spacing:0.118px;">My Account</span>
<span class="t" style="top:39.01px;font-size:23.5px;color:#34455a;left:912.00px;-webkit-text-stroke:0.3px;letter-spacing:0.345px;">Assets</span>
<span class="t" style="top:39.01px;font-size:23.5px;color:#34455a;left:1021.60px;-webkit-text-stroke:0.3px;letter-spacing:0.627px;">Strategies</span>
<span class="t" style="top:39.01px;font-size:23.5px;color:#34455a;left:1169.80px;-webkit-text-stroke:0.3px;letter-spacing:0.379px;">bApps</span>
<span class="t" style="top:39.01px;font-size:23.5px;color:#1ba5f8;left:1274.70px;letter-spacing:-2.123px;">DVT</span>
<span class="t" style="top:39.01px;font-size:23.5px;color:#34455a;left:1355.00px;-webkit-text-stroke:0.3px;letter-spacing:0.089px;">Explorer</span>
<span class="t" style="top:39.55px;font-size:22.5px;color:#34455a;left:1647.70px;-webkit-text-stroke:0.3px;letter-spacing:0.678px;">Hoodi</span>
<span class="t" style="top:38.53px;font-size:23px;color:#34455a;left:1883.00px;-webkit-text-stroke:0.3px;letter-spacing:0.132px;">0xf27d...0aD9</span>
<span class="t" style="top:226.79px;font-size:32.5px;color:#0b2a3c;left:89.50px;font-weight:700;letter-spacing:-0.153px;">Pick the cluster of network operators to run your validator</span>
<span class="t" style="top:322.29px;font-size:26px;color:#97a5ba;left:90.50px;font-weight:700;letter-spacing:0.021px;">Cluster Size</span>
<span class="t" style="top:324.18px;font-size:22px;color:#1ba5f8;left:253.00px;width:271px;text-align:center;">4</span>
<span class="t" style="top:324.18px;font-size:22px;color:#0b2a3c;left:537.00px;-webkit-text-stroke:0.3px;width:271px;text-align:center;">7</span>
<span class="t" style="top:324.18px;font-size:22px;color:#0b2a3c;left:820.60px;-webkit-text-stroke:0.3px;width:271px;text-align:center;">10</span>
<span class="t" style="top:324.18px;font-size:22px;color:#0b2a3c;left:1104.20px;-webkit-text-stroke:0.3px;width:271px;text-align:center;">13</span>
<span class="t" style="top:433.05px;font-size:22.5px;color:#0b2a3c;left:1271.30px;-webkit-text-stroke:0.3px;letter-spacing:0.567px;">Filters</span>
<span class="t" style="top:543.07px;font-size:20px;color:#97a5ba;left:183.70px;letter-spacing:-0.542px;">Name</span>
<span class="t" style="top:543.07px;font-size:20px;color:#97a5ba;left:472.40px;letter-spacing:-0.028px;">Validators</span>
<span class="t" style="top:543.07px;font-size:20px;color:#97a5ba;left:633.00px;letter-spacing:-0.308px;">30D Performance</span>
<span class="t" style="top:543.07px;font-size:20px;color:#97a5ba;left:856.70px;letter-spacing:-0.839px;">Yearly Fee</span>
<span class="t" style="top:543.07px;font-size:20px;color:#97a5ba;left:1047.80px;letter-spacing:-1.037px;">MEV Relays</span>
<span class="t" style="top:629.18px;font-size:22px;color:#8b9aab;left:261.00px;letter-spacing:0.374px;">Operator 1</span>
<span class="t" style="top:662.66px;font-size:18px;color:#c9d1de;left:261.00px;letter-spacing:-0.775px;">ID: 1</span>
<span class="t" style="top:630.36px;font-size:24.5px;color:#7f8d9c;left:473.70px;letter-spacing:1.000px;">0</span>
<span class="t" style="top:630.36px;font-size:24.5px;color:#7f8d9c;left:633.60px;letter-spacing:2.374px;">0%</span>
<span class="t" style="top:630.36px;font-size:24.5px;color:#7f8d9c;left:857.60px;letter-spacing:-0.579px;">0 SSV</span>
<span class="t" style="top:672.62px;font-size:19px;color:#b4bfce;left:644.80px;letter-spacing:0.530px;">No Validators</span>
<span class="t" style="top:643.48px;font-size:22px;color:#c6cfdc;left:1049.00px;width:45px;text-align:center;">0</span>
<span class="t" style="top:765.18px;font-size:22px;color:#8b9aab;left:261.00px;letter-spacing:0.819px;">Operator 2</span>
<span class="t" style="top:798.66px;font-size:18px;color:#c9d1de;left:261.00px;letter-spacing:0.175px;">ID: 2</span>
<span class="t" style="top:766.36px;font-size:24.5px;color:#7f8d9c;left:473.70px;letter-spacing:1.000px;">0</span>
<span class="t" style="top:766.36px;font-size:24.5px;color:#7f8d9c;left:633.60px;letter-spacing:2.374px;">0%</span>
<span class="t" style="top:766.36px;font-size:24.5px;color:#7f8d9c;left:857.60px;letter-spacing:-0.579px;">0 SSV</span>
<span class="t" style="top:808.62px;font-size:19px;color:#b4bfce;left:644.80px;letter-spacing:0.530px;">No Validators</span>
<span class="t" style="top:779.48px;font-size:22px;color:#c6cfdc;left:1049.00px;width:45px;text-align:center;">0</span>
<span class="t" style="top:901.18px;font-size:22px;color:#8b9aab;left:261.00px;letter-spacing:0.819px;">Operator 3</span>
<span class="t" style="top:934.66px;font-size:18px;color:#c9d1de;left:261.00px;letter-spacing:0.175px;">ID: 3</span>
<span class="t" style="top:902.36px;font-size:24.5px;color:#7f8d9c;left:473.70px;letter-spacing:1.000px;">0</span>
<span class="t" style="top:902.36px;font-size:24.5px;color:#7f8d9c;left:633.60px;letter-spacing:2.374px;">0%</span>
<span class="t" style="top:902.36px;font-size:24.5px;color:#7f8d9c;left:857.60px;letter-spacing:-0.579px;">0 SSV</span>
<span class="t" style="top:944.62px;font-size:19px;color:#b4bfce;left:644.80px;letter-spacing:0.530px;">No Validators</span>
<span class="t" style="top:915.48px;font-size:22px;color:#c6cfdc;left:1049.00px;width:45px;text-align:center;">0</span>
<span class="t" style="top:1037.18px;font-size:22px;color:#8b9aab;left:261.00px;letter-spacing:0.897px;">Operator 4</span>
<span class="t" style="top:1070.66px;font-size:18px;color:#c9d1de;left:261.00px;letter-spacing:0.300px;">ID: 4</span>
<span class="t" style="top:1038.36px;font-size:24.5px;color:#7f8d9c;left:473.70px;letter-spacing:1.000px;">0</span>
<span class="t" style="top:1038.36px;font-size:24.5px;color:#7f8d9c;left:633.60px;letter-spacing:2.374px;">0%</span>
<span class="t" style="top:1038.36px;font-size:24.5px;color:#7f8d9c;left:857.60px;letter-spacing:-0.579px;">0 SSV</span>
<span class="t" style="top:1080.62px;font-size:19px;color:#b4bfce;left:644.80px;letter-spacing:0.530px;">No Validators</span>
<span class="t" style="top:1051.48px;font-size:22px;color:#c6cfdc;left:1049.00px;width:45px;text-align:center;">0</span>
<span class="t" style="top:1173.18px;font-size:22px;color:#34455a;left:261.00px;-webkit-text-stroke:0.3px;letter-spacing:0.974px;">Operator 5</span>
<span class="t" style="top:1206.66px;font-size:18px;color:#97a5ba;left:261.00px;letter-spacing:0.175px;">ID: 5</span>
<span class="t" style="top:1174.36px;font-size:24.5px;color:#0b2a3c;left:472.70px;-webkit-text-stroke:0.3px;letter-spacing:1.874px;">934</span>
<span class="t" style="top:1174.36px;font-size:24.5px;color:#0b2a3c;left:632.60px;-webkit-text-stroke:0.3px;letter-spacing:1.274px;">100%</span>
<span class="t" style="top:1174.36px;font-size:24.5px;color:#0b2a3c;left:856.60px;-webkit-text-stroke:0.3px;letter-spacing:0.075px;">2.5 SSV</span>
<span class="t" style="top:1187.48px;font-size:22px;color:#97a5ba;left:1049.00px;width:45px;text-align:center;">0</span>
<span class="t" style="top:1309.18px;font-size:22px;color:#34455a;left:261.00px;-webkit-text-stroke:0.3px;letter-spacing:1.041px;">Operator 6</span>
<span class="t" style="top:1342.66px;font-size:18px;color:#97a5ba;left:261.00px;letter-spacing:0.300px;">ID: 6</span>
<span class="t" style="top:1310.36px;font-size:24.5px;color:#0b2a3c;left:472.70px;-webkit-text-stroke:0.3px;letter-spacing:1.874px;">968</span>
<span class="t" style="top:1310.36px;font-size:24.5px;color:#0b2a3c;left:632.60px;-webkit-text-stroke:0.3px;letter-spacing:1.274px;">100%</span>
<span class="t" style="top:1310.36px;font-size:24.5px;color:#0b2a3c;left:856.60px;-webkit-text-stroke:0.3px;letter-spacing:0.075px;">2.5 SSV</span>
<span class="t" style="top:1323.48px;font-size:22px;color:#97a5ba;left:1049.00px;width:45px;text-align:center;">0</span>
<span class="t" style="top:1445.18px;font-size:22px;color:#34455a;left:261.00px;-webkit-text-stroke:0.3px;letter-spacing:0.852px;">Operator 7</span>
<span class="t" style="top:1478.66px;font-size:18px;color:#97a5ba;left:261.00px;letter-spacing:-0.100px;">ID: 7</span>
<span class="t" style="top:1446.36px;font-size:24.5px;color:#0b2a3c;left:472.70px;-webkit-text-stroke:0.3px;letter-spacing:1.874px;">968</span>
<span class="t" style="top:1446.36px;font-size:24.5px;color:#0b2a3c;left:632.60px;-webkit-text-stroke:0.3px;letter-spacing:1.274px;">100%</span>
<span class="t" style="top:1446.36px;font-size:24.5px;color:#0b2a3c;left:856.60px;-webkit-text-stroke:0.3px;letter-spacing:0.075px;">2.5 SSV</span>
<span class="t" style="top:1459.48px;font-size:22px;color:#97a5ba;left:1049.00px;width:45px;text-align:center;">0</span>
<span class="t" style="top:226.27px;font-size:33px;color:#0b2a3c;left:1516.50px;font-weight:700;letter-spacing:-0.075px;">Selected Operators</span>
<span class="t" style="top:226.27px;font-size:33px;color:#1ba5f8;left:2048.00px;font-weight:700;letter-spacing:2.239px;">4/4</span>
<span class="t" style="top:353.28px;font-size:22px;color:#34455a;left:1612.50px;-webkit-text-stroke:0.3px;letter-spacing:0.785px;">Operator 5</span>
<span class="t" style="top:389.56px;font-size:18px;color:#97a5ba;left:1613.20px;letter-spacing:0.050px;">ID: 5</span>
<span class="t" style="top:352.85px;font-size:22.5px;color:#34455a;left:1975.70px;-webkit-text-stroke:0.3px;letter-spacing:-0.624px;">2.5 SSV</span>
<span class="t" style="top:500.65px;font-size:22px;color:#34455a;left:1612.50px;-webkit-text-stroke:0.3px;letter-spacing:0.852px;">Operator 6</span>
<span class="t" style="top:536.93px;font-size:18px;color:#97a5ba;left:1613.20px;letter-spacing:0.200px;">ID: 6</span>
<span class="t" style="top:500.22px;font-size:22.5px;color:#34455a;left:1975.70px;-webkit-text-stroke:0.3px;letter-spacing:-0.624px;">2.5 SSV</span>
<span class="t" style="top:648.02px;font-size:22px;color:#34455a;left:1612.50px;-webkit-text-stroke:0.3px;letter-spacing:0.674px;">Operator 7</span>
<span class="t" style="top:684.30px;font-size:18px;color:#97a5ba;left:1613.20px;letter-spacing:-0.200px;">ID: 7</span>
<span class="t" style="top:647.59px;font-size:22.5px;color:#34455a;left:1975.70px;-webkit-text-stroke:0.3px;letter-spacing:-0.624px;">2.5 SSV</span>
<span class="t" style="top:795.39px;font-size:22px;color:#34455a;left:1612.50px;-webkit-text-stroke:0.3px;letter-spacing:0.852px;">Operator 8</span>
<span class="t" style="top:831.67px;font-size:18px;color:#97a5ba;left:1613.20px;letter-spacing:0.200px;">ID: 8</span>
<span class="t" style="top:794.96px;font-size:22.5px;color:#34455a;left:1975.70px;-webkit-text-stroke:0.3px;letter-spacing:-0.624px;">2.5 SSV</span>
<span class="t" style="top:969.84px;font-size:25px;color:#34455a;left:1515.50px;-webkit-text-stroke:0.3px;letter-spacing:0.537px;">Operators Yearly Fee</span>
<span class="t" style="top:969.84px;font-size:25px;color:#34455a;left:1958.80px;font-weight:700;letter-spacing:0.804px;">9.9999 SSV</span>
<span class="t" style="top:1067.34px;font-size:22.4px;color:#0b2a3c;left:1543.00px;font-weight:700;letter-spacing:-0.104px;">You have selected one or more operators that are</span>
<span class="t" style="top:1104.04px;font-size:22.4px;color:#1ba5f8;left:1542.00px;letter-spacing:0.975px;">not verified</span>
<span class="t" style="top:1166.64px;font-size:22.4px;color:#0b2a3c;left:1542.00px;-webkit-text-stroke:0.3px;letter-spacing:0.621px;">Unverified operators that were not reviewed and</span>
<span class="t" style="top:1202.94px;font-size:22.4px;color:#0b2a3c;left:1543.00px;-webkit-text-stroke:0.3px;letter-spacing:0.603px;">their identity is not confirmed, may pose a threat</span>
<span class="t" style="top:1239.24px;font-size:22.4px;color:#0b2a3c;left:1543.00px;-webkit-text-stroke:0.3px;letter-spacing:0.591px;">to your validators' performance.</span>
<span class="t" style="top:1301.64px;font-size:22.4px;color:#0b2a3c;left:1542.00px;-webkit-text-stroke:0.3px;letter-spacing:0.511px;">Please proceed only if you know and trust these</span>
<span class="t" style="top:1337.64px;font-size:22.4px;color:#0b2a3c;left:1543.00px;-webkit-text-stroke:0.3px;letter-spacing:0.879px;">operators.</span>
<span class="t" style="top:1460.19px;font-size:26px;color:#fdfefe;left:1779.50px;letter-spacing:0.688px;-webkit-text-stroke:0.4px;">Next</span>
</body></html>
